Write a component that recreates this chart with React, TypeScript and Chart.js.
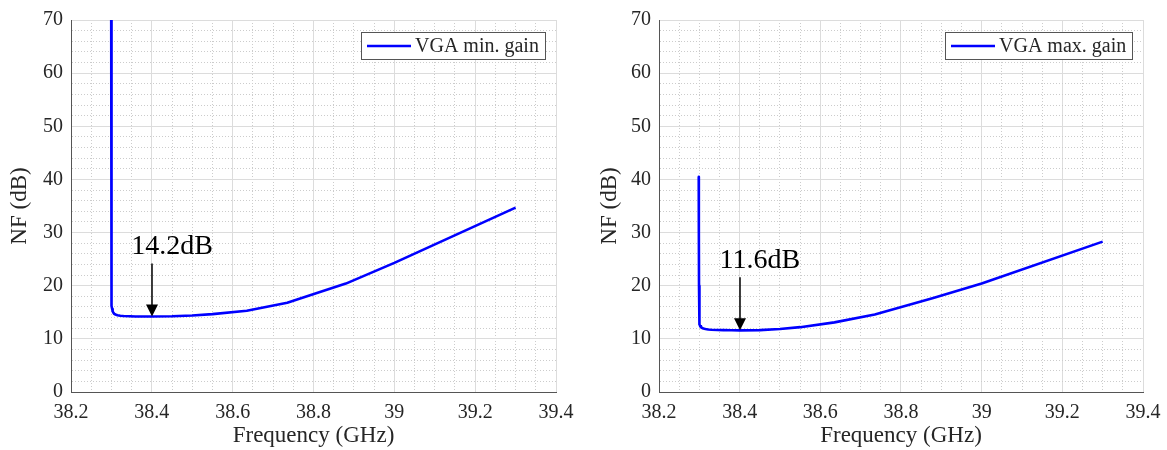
import React, { useEffect, useRef } from 'react';
import { Chart, registerables } from 'chart.js';

Chart.register(...registerables);

// ---------- data ----------
const minGainFreq = [38.2995, 38.2997, 38.2999, 38.3, 38.3003, 38.3007, 38.301, 38.302, 38.303, 38.305, 38.307, 38.31, 38.315, 38.322, 38.33, 38.345, 38.36, 38.38, 38.4, 38.45, 38.5, 38.55, 38.635, 38.735, 38.88, 39.0, 39.3];
const minGainNF = [70, 50, 30, 22, 18, 16.8, 16.2, 15.6, 15.2, 14.9, 14.7, 14.58, 14.45, 14.36, 14.3, 14.25, 14.22, 14.2, 14.2, 14.25, 14.4, 14.65, 15.3, 16.8, 20.4, 24.3, 34.7];

const maxGainFreq = [38.2985, 38.2988, 38.2992, 38.2996, 38.3, 38.3005, 38.301, 38.302, 38.304, 38.306, 38.31, 38.315, 38.322, 38.33, 38.345, 38.36, 38.38, 38.4, 38.45, 38.5, 38.55, 38.635, 38.735, 38.88, 39.0, 39.3];
const maxGainNF = [40.5, 30, 20, 15.5, 13.5, 13.0, 12.7, 12.4, 12.2, 12.08, 11.95, 11.85, 11.77, 11.72, 11.67, 11.64, 11.61, 11.6, 11.65, 11.85, 12.2, 13.1, 14.6, 17.7, 20.4, 28.3];

const xRange = [38.2, 39.4];
const xMajorStep = 0.2;
const xMinorStep = 0.05;
const yRange = [0, 70];
const yMajorStep = 10;
const yMinorStep = 2;

const xTitle = 'Frequency (GHz)';
const yTitle = 'NF (dB)';
const minGainLabel = 'VGA min. gain';
const maxGainLabel = 'VGA max. gain';

const minGainMarker = { freq: 38.4, nf: 14.2, text: '14.2dB' };
const maxGainMarker = { freq: 38.4, nf: 11.6, text: '11.6dB' };

// ---------- styling ----------
const FONT = '"Liberation Serif", "Times New Roman", serif';
const TEXT = '#262626';

const isMajor = (v: number, step: number) => Math.abs(v / step - Math.round(v / step)) < 1e-6;
const fmt = (v: number) => String(Number(v.toFixed(2)));

function legendPlugin() {
  return {
    id: 'boxLegend',
    afterDraw(chart: any) {
      const { ctx, chartArea } = chart;
      const label = chart.data.datasets[0].label as string;
      const color = chart.data.datasets[0].borderColor as string;
      ctx.save();
      ctx.font = `20px ${FONT}`;
      const tw = ctx.measureText(label).width;
      const w = Math.round(6 + 44 + 4 + tw + 6);
      const h = 27;
      const bx = Math.round(chartArea.right - 11 - w);
      const by = Math.round(chartArea.top + 12);
      ctx.fillStyle = '#ffffff';
      ctx.fillRect(bx, by, w, h);
      ctx.strokeStyle = '#555555';
      ctx.lineWidth = 1;
      ctx.strokeRect(bx + 0.5, by + 0.5, w, h);
      ctx.strokeStyle = color;
      ctx.lineWidth = 2.6;
      ctx.beginPath();
      ctx.moveTo(bx + 6, by + h / 2 + 0.5);
      ctx.lineTo(bx + 50, by + h / 2 + 0.5);
      ctx.stroke();
      ctx.fillStyle = TEXT;
      ctx.textBaseline = 'middle';
      ctx.textAlign = 'left';
      ctx.fillText(label, bx + 54, by + h / 2 + 1);
      ctx.restore();
    },
  };
}

function markerPlugin(marker: { freq: number; nf: number; text: string }) {
  return {
    id: 'nfMarker',
    afterDatasetsDraw(chart: any) {
      const { ctx } = chart;
      const xs = chart.scales.x;
      const ys = chart.scales.y;
      const px = Math.round(xs.getPixelForValue(marker.freq));
      const tip = ys.getPixelForValue(marker.nf);
      const tail = ys.getPixelForValue(marker.nf + 10);
      ctx.save();
      ctx.strokeStyle = '#000';
      ctx.fillStyle = '#000';
      ctx.lineWidth = 1.5;
      ctx.beginPath();
      ctx.moveTo(px, tail);
      ctx.lineTo(px, tip - 10);
      ctx.stroke();
      ctx.beginPath();
      ctx.moveTo(px, tip);
      ctx.lineTo(px - 6, tip - 12);
      ctx.lineTo(px + 6, tip - 12);
      ctx.closePath();
      ctx.fill();
      ctx.font = `28px ${FONT}`;
      ctx.textAlign = 'center';
      ctx.textBaseline = 'alphabetic';
      ctx.fillText(marker.text, xs.getPixelForValue(marker.freq + 0.05), tail - 9);
      ctx.restore();
    },
  };
}

type Props = {
  freqs: number[];
  nfs: number[];
  label: string;
  marker: { freq: number; nf: number; text: string };
  yAxisWidth: number;
  yTitlePad: number;
};

function NFChart({ freqs, nfs, label, marker, yAxisWidth, yTitlePad }: Props) {
  const ref = useRef<HTMLCanvasElement | null>(null);
  useEffect(() => {
    if (!ref.current) return;
    const chart = new Chart(ref.current, {
      type: 'line',
      data: {
        datasets: [
          {
            label,
            data: freqs.map((f, i) => ({ x: f, y: nfs[i] })),
            borderColor: '#0000ff',
            borderWidth: 2.6,
            pointRadius: 0,
            fill: false,
            tension: 0,
            borderJoinStyle: 'round',
          },
        ],
      },
      options: {
        animation: false,
        responsive: false,
        layout: { padding: { left: 0, right: 24, top: 17, bottom: 0 } },
        plugins: { legend: { display: false }, tooltip: { enabled: false } },
        scales: {
          x: {
            type: 'linear',
            min: xRange[0],
            max: xRange[1],
            afterFit: (s: any) => {
              s.height = 58;
              s.paddingLeft = 0;
              s.paddingRight = 0;
            },
            ticks: {
              stepSize: xMinorStep,
              autoSkip: false,
              maxRotation: 0,
              padding: 9,
              color: TEXT,
              font: { family: FONT, size: 20 },
              callback: (v: any) => (isMajor(Number(v), xMajorStep) ? fmt(Number(v)) : ''),
            },
            grid: {
              drawTicks: false,
              lineWidth: 1,
              color: (c: any) => (c.tick && isMajor(c.tick.value, xMajorStep) ? '#dcdcdc' : '#cccccc'),
            },
            border: {
              display: true,
              color: '#555555',
              width: 1,
              dash: (c: any) => (c.tick && !isMajor(c.tick.value, xMajorStep) ? [1, 2] : []),
            },
            title: {
              display: true,
              text: xTitle,
              color: TEXT,
              font: { family: FONT, size: 23 },
              padding: { top: 0, bottom: 0 },
            },
          },
          y: {
            type: 'linear',
            min: yRange[0],
            max: yRange[1],
            afterFit: (s: any) => {
              s.width = yAxisWidth;
            },
            ticks: {
              stepSize: yMinorStep,
              autoSkip: false,
              padding: 8,
              color: TEXT,
              font: { family: FONT, size: 20 },
              callback: (v: any) => (isMajor(Number(v), yMajorStep) ? fmt(Number(v)) : ''),
            },
            grid: {
              drawTicks: false,
              lineWidth: 1,
              color: (c: any) => (c.tick && isMajor(c.tick.value, yMajorStep) ? '#dcdcdc' : '#cccccc'),
            },
            border: {
              display: true,
              color: '#555555',
              width: 1,
              dash: (c: any) => (c.tick && !isMajor(c.tick.value, yMajorStep) ? [1, 2] : []),
            },
            title: {
              display: true,
              text: yTitle,
              color: TEXT,
              font: { family: FONT, size: 23 },
              padding: { top: yTitlePad, bottom: 0 },
            },
          },
        },
      } as any,
      plugins: [markerPlugin(marker), legendPlugin()],
    });
    return () => chart.destroy();
  }, []);
  return <canvas ref={ref} width={580} height={450} style={{ display: 'block' }} />;
}

export default function App() {
  return (
    <div style={{ position: 'absolute', left: 0, top: 0, width: 1167, height: 450, background: '#fff' }}>
      <div style={{ position: 'absolute', left: 0, top: 0 }}>
        <NFChart freqs={minGainFreq} nfs={minGainNF} label={minGainLabel} marker={minGainMarker} yAxisWidth={71} yTitlePad={6} />
      </div>
      <div style={{ position: 'absolute', left: 587, top: 0 }}>
        <NFChart freqs={maxGainFreq} nfs={maxGainNF} label={maxGainLabel} marker={maxGainMarker} yAxisWidth={72} yTitlePad={9} />
      </div>
    </div>
  );
}
